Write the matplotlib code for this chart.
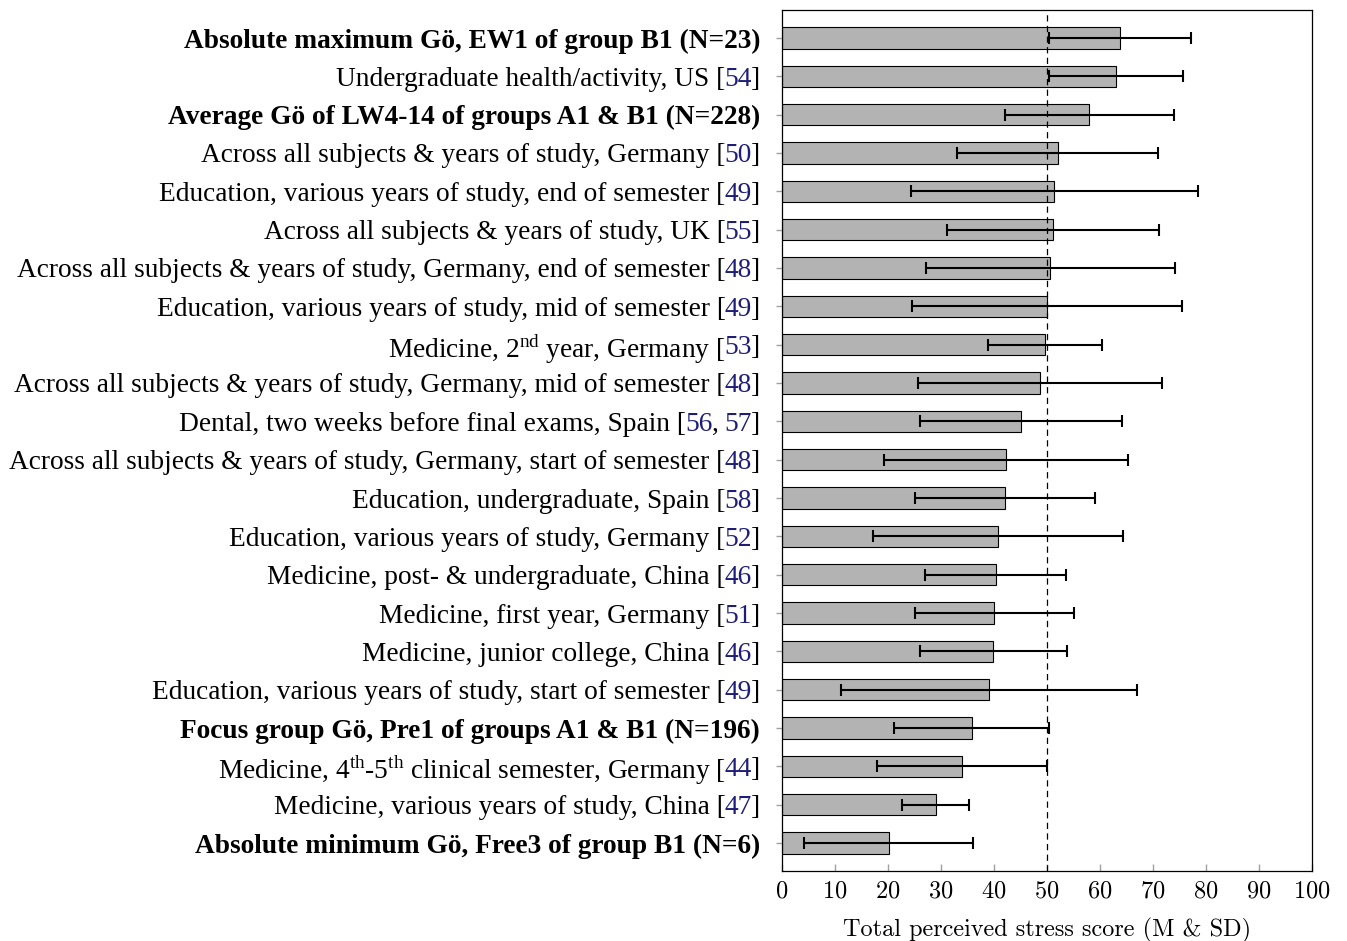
import numpy as np
import matplotlib
matplotlib.use('Agg')
import matplotlib.pyplot as plt
import matplotlib.transforms as mtransforms

plt.rcParams['font.family'] = 'Liberation Serif'
plt.rcParams['mathtext.fontset'] = 'custom'
plt.rcParams['mathtext.rm'] = 'Liberation Serif'
plt.rcParams['axes.formatter.use_mathtext'] = True

# label text (top to bottom), citation numbers, bold flag
labels = [
    'Absolute maximum Gö, EW1 of group B1 (N=23)',
    'Undergraduate health/activity, US',
    'Average Gö of LW4-14 of groups A1 & B1 (N=228)',
    'Across all subjects & years of study, Germany',
    'Education, various years of study, end of semester',
    'Across all subjects & years of study, UK',
    'Across all subjects & years of study, Germany, end of semester',
    'Education, various years of study, mid of semester',
    'Medicine, 2$^{\\mathregular{nd}}$ year, Germany',
    'Across all subjects & years of study, Germany, mid of semester',
    'Dental, two weeks before final exams, Spain',
    'Across all subjects & years of study, Germany, start of semester',
    'Education, undergraduate, Spain',
    'Education, various years of study, Germany',
    'Medicine, post- & undergraduate, China',
    'Medicine, first year, Germany',
    'Medicine, junior college, China',
    'Education, various years of study, start of semester',
    'Focus group Gö, Pre1 of groups A1 & B1 (N=196)',
    'Medicine, 4$^{\\mathregular{th}}$-5$^{\\mathregular{th}}$ clinical semester, Germany',
    'Medicine, various years of study, China',
    'Absolute minimum Gö, Free3 of group B1 (N=6)',
]
refs = [[], ['54'], [], ['50'], ['49'], ['55'], ['48'], ['49'], ['53'], ['48'],
        ['56', '57'], ['48'], ['58'], ['52'], ['46'], ['51'], ['46'], ['49'],
        [], ['44'], ['47'], []]
bold = [True, False, True, False, False, False, False, False, False, False, False,
        False, False, False, False, False, False, False, True, False, False, True]

means = [63.7, 63.0, 58.0, 52.0, 51.4, 51.1, 50.6, 50.0, 49.6, 48.7, 45.1,
         42.2, 42.0, 40.8, 40.3, 40.0, 39.9, 39.1, 35.8, 34.0, 29.0, 20.1]
sds = [13.4, 12.7, 16.0, 19.0, 27.0, 20.0, 23.5, 25.5, 10.7, 23.0, 19.0,
       23.0, 17.0, 23.6, 13.3, 15.0, 13.8, 27.9, 14.6, 16.0, 6.3, 15.9]

ref_color = '#1e1e78'
fs = 19.7
fs_axis = 17.5

fig = plt.figure(figsize=(13.47, 9.41), dpi=100)
ax = fig.add_axes([782 / 1347, 1 - 871 / 941, 530 / 1347, 861 / 941])

ypos = np.arange(len(means))
ax.barh(ypos, means, height=0.55, color='#b3b3b3', edgecolor='black', linewidth=0.8, zorder=2)
ax.errorbar(means, ypos, xerr=sds, fmt='none', ecolor='black', elinewidth=1.5,
            capsize=4, capthick=1.5, zorder=3)
ax.axvline(50, color='black', linewidth=0.9, dashes=(5, 3.5), zorder=4)

ax.set_xlim(0, 100)
ax.set_ylim(len(means) - 1 + 0.73, -0.73)
ax.set_xticks(np.arange(0, 101, 10))
ax.set_yticks(ypos)
ax.set_yticklabels([])
ax.tick_params(axis='x', direction='in', length=5, width=1, color='#a0a0a0', pad=6.5)
ax.tick_params(axis='y', direction='out', length=4, width=1, color='#a0a0a0')
for lab in ax.get_xticklabels():
    lab.set_fontfamily('cmr10')
    lab.set_fontsize(fs_axis)
ax.set_xlabel('Total perceived stress score (M & SD)', fontfamily='cmr10', fontsize=fs_axis, labelpad=11)
for sp in ax.spines.values():
    sp.set_linewidth(0.9)

# y labels drawn piece by piece, right to left, so citations can be coloured
renderer = fig.canvas.get_renderer()


def text_width(s, weight):
    t = fig.text(0, 0, '|' + s + '|', fontsize=fs, fontweight=weight)
    w = t.get_window_extent(renderer).width
    t.remove()
    t2 = fig.text(0, 0, '||', fontsize=fs, fontweight=weight)
    w -= t2.get_window_extent(renderer).width
    t2.remove()
    return w


base = mtransforms.blended_transform_factory(ax.transAxes, ax.transData)
for i, lab in enumerate(labels):
    weight = 'bold' if bold[i] else 'normal'
    pieces = []
    if refs[i]:
        pieces.append((lab + ' [', 'black'))
        for k, r in enumerate(refs[i]):
            if k > 0:
                pieces.append((', ', 'black'))
            pieces.append((r, ref_color))
        pieces.append((']', 'black'))
    else:
        pieces.append((lab, 'black'))
    x_off = -22
    for txt, col in reversed(pieces):
        tr = mtransforms.offset_copy(base, fig=fig, x=x_off, y=0, units='dots')
        ax.text(0, ypos[i], txt, transform=tr, ha='right', va='center_baseline',
                fontsize=fs, fontweight=weight, color=col, clip_on=False)
        x_off -= text_width(txt, weight) - 1

fig.savefig('out.png', dpi=100)
